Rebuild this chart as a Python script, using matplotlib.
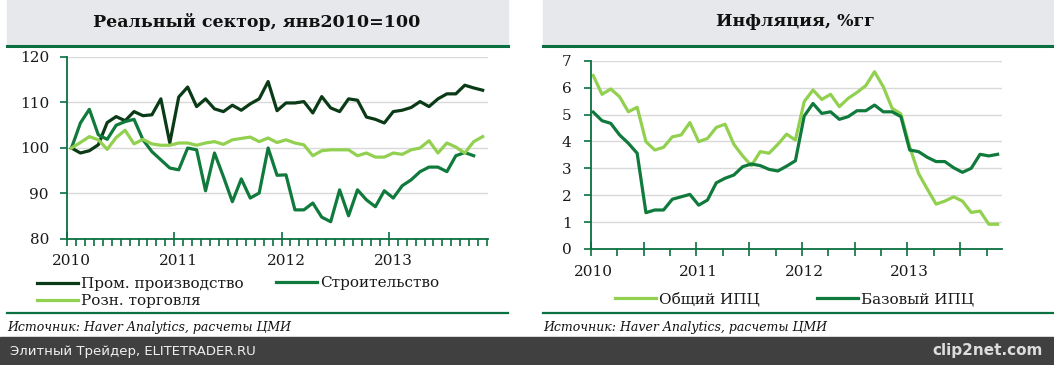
import matplotlib
matplotlib.use('Agg')
import matplotlib.pyplot as plt
from matplotlib.patches import Rectangle
from matplotlib.lines import Line2D

# ---- data (months Jan 2010 .. Nov 2013) ----
years = ['2010', '2011', '2012', '2013']

prom = [100.0, 98.9, 99.4, 100.7, 105.6, 106.9, 106.0, 108.0, 107.1, 107.3,
        110.8, 101.1, 111.2, 113.4, 109.1, 110.8, 108.6, 108.0, 109.4, 108.3,
        109.7, 110.8, 114.6, 108.2, 109.9, 109.9, 110.2, 107.7, 111.3, 108.8,
        108.0, 110.8, 110.5, 106.8, 106.3, 105.5, 108.0, 108.3, 108.9, 110.2,
        109.1, 110.8, 111.9, 111.9, 113.8, 113.2, 112.7]
stroy = [100.0, 105.5, 108.5, 102.9, 101.9, 105.0, 105.8, 106.3, 101.8, 99.2,
         97.4, 95.6, 95.2, 100.0, 99.6, 90.6, 98.9, 93.7, 88.2, 93.2,
         89.0, 90.1, 100.0, 94.0, 94.1, 86.4, 86.4, 87.9, 84.8, 83.8,
         90.8, 85.1, 90.8, 88.6, 87.1, 90.6, 89.0, 91.7, 93.0, 94.8,
         95.8, 95.8, 94.8, 98.3, 99.0, 98.3]
rozn = [100.0, 101.2, 102.5, 101.8, 99.7, 102.3, 103.9, 100.9, 101.9, 100.9,
        100.6, 100.6, 101.1, 101.1, 100.6, 101.1, 101.4, 100.8, 101.8, 102.1,
        102.4, 101.4, 102.2, 101.2, 101.8, 101.1, 100.7, 98.3, 99.4, 99.6,
        99.6, 99.6, 98.3, 98.9, 98.0, 98.0, 98.9, 98.6, 99.6, 100.0,
        101.6, 98.9, 101.1, 100.2, 98.9, 101.4, 102.5]

ipc_total = [6.45, 5.75, 5.95, 5.66, 5.10, 5.27, 3.99, 3.68, 3.78, 4.17,
             4.24, 4.70, 3.99, 4.11, 4.52, 4.64, 3.89, 3.46, 3.10, 3.62,
             3.56, 3.89, 4.27, 4.05, 5.48, 5.91, 5.56, 5.75, 5.29, 5.60,
             5.82, 6.07, 6.59, 6.03, 5.23, 5.02, 3.80, 2.81, 2.23, 1.67,
             1.78, 1.94, 1.78, 1.36, 1.41, 0.92, 0.92]
ipc_core = [5.09, 4.77, 4.67, 4.24, 3.93, 3.56, 1.35, 1.45, 1.45, 1.85,
            1.94, 2.03, 1.63, 1.82, 2.46, 2.63, 2.75, 3.06, 3.16, 3.10,
            2.96, 2.90, 3.08, 3.28, 4.94, 5.41, 5.04, 5.10, 4.82, 4.92,
            5.14, 5.14, 5.35, 5.10, 5.10, 4.92, 3.68, 3.62, 3.41, 3.25,
            3.25, 3.02, 2.85, 3.00, 3.52, 3.46, 3.52]

DARK = '#0b3a16'
MID = '#0f7a3c'
LIGHT = '#92d050'
AXC = '#0a7040'
GRID = '#d9d9d9'
TXT = '#1a1a1a'
SERIF = ['DejaVu Serif']

W, H = 1054, 365
fig = plt.figure(figsize=(W / 100, H / 100), dpi=100)


def fx(px):
    return px / W


def fy(py):
    return 1 - py / H


# background panels
fig.patches.append(Rectangle((fx(7), fy(45)), fx(501), 45 / H, transform=fig.transFigure,
                             color='#e6e8ec', zorder=0))
fig.patches.append(Rectangle((fx(543), fy(45)), fx(511), 45 / H, transform=fig.transFigure,
                             color='#e6e8ec', zorder=0))
fig.patches.append(Rectangle((0, 0), 1, 28 / H, transform=fig.transFigure,
                             color='#404040', zorder=0))
for x0, x1 in [(7, 508), (543, 1054)]:
    fig.add_artist(Line2D([fx(x0), fx(x1)], [fy(46), fy(46)], transform=fig.transFigure,
                          color=AXC, lw=2.2))
    fig.add_artist(Line2D([fx(x0), fx(x1)], [fy(313), fy(313)], transform=fig.transFigure,
                          color=AXC, lw=1.6))

fig.text(fx(257), fy(22), 'Реальный сектор, янв2010=100', ha='center', va='center',
         fontsize=12.5, fontweight='bold', family=SERIF, color='#111111')
fig.text(fx(795), fy(22), 'Инфляция, %гг', ha='center', va='center',
         fontsize=12.5, fontweight='bold', family=SERIF, color='#111111')
for x0 in (7, 543):
    fig.text(fx(x0), fy(327), 'Источник: Haver Analytics, расчеты ЦМИ', ha='left', va='center',
             fontsize=9, style='italic', family=SERIF, color='#111111')
fig.text(fx(10), fy(351), 'Элитный Трейдер, ELITETRADER.RU', ha='left', va='center',
         fontsize=9.5, family=['DejaVu Sans'], color='#f0f0f0')
fig.text(fx(1043), fy(351), 'clip2net.com', ha='right', va='center',
         fontsize=11, fontweight='bold', family=['DejaVu Sans'], color='#dcdcdc')


def style_axes(ax, pad):
    for s in ('top', 'right'):
        ax.spines[s].set_visible(False)
    ax.spines['left'].set_color(AXC)
    ax.spines['bottom'].set_color(AXC)
    ax.spines['left'].set_linewidth(1.3)
    ax.spines['bottom'].set_linewidth(1.3)
    ax.grid(axis='y', color=GRID, lw=1.0)
    ax.set_axisbelow(True)
    ax.tick_params(axis='y', colors=AXC, length=5, width=1.2, labelcolor=TXT,
                   labelsize=11, pad=pad)
    for lab in ax.get_yticklabels():
        lab.set_family(SERIF)


# ---- left chart ----
ax1 = fig.add_axes([fx(67), fy(239), fx(488 - 67), (239 - 57) / H])
l_prom, = ax1.plot(list(range(len(prom))), prom, color=DARK, lw=2.3)
l_stroy, = ax1.plot(list(range(len(stroy))), stroy, color=MID, lw=2.3)
l_rozn, = ax1.plot(list(range(len(rozn))), rozn, color=LIGHT, lw=2.3)
ax1.set_xlim(-0.5, 46.6)
ax1.set_ylim(80, 120)
ax1.set_yticks([80, 90, 100, 110, 120])
style_axes(ax1, 8)
ax1.set_xticks([i - 0.5 for i in range(0, 48, 12)])
ax1.set_xticklabels([])
ax1.set_xticks([i - 0.5 for i in range(48)], minor=True)
ax1.tick_params(axis='x', which='major', colors=AXC, length=10, width=1.2, direction='inout')
ax1.tick_params(axis='x', which='minor', colors=AXC, length=5, width=1.2, direction='out')
for k, y in enumerate(years):
    ax1.text(k * 12, 76.8, y, transform=ax1.transData, ha='center', va='top',
             fontsize=11, family=SERIF, color=TXT)

legkw = dict(loc='center left', frameon=False, handlelength=2.7, handletextpad=0.2,
             labelspacing=0.2, borderaxespad=0, borderpad=0,
             prop={'family': SERIF, 'size': 11})
leg1a = fig.legend([l_prom, l_rozn], ['Пром. производство', 'Розн. торговля'],
                   bbox_to_anchor=(fx(37), fy(292.5)), **legkw)
leg1b = fig.legend([l_stroy], ['Строительство'],
                   bbox_to_anchor=(fx(276), fy(283)), **legkw)

# ---- right chart ----
ax2 = fig.add_axes([fx(591), fy(249), fx(1002 - 591), (249 - 60.7) / H])
l_tot, = ax2.plot(list(range(len(ipc_total))), ipc_total, color=LIGHT, lw=2.3)
l_core, = ax2.plot(list(range(len(ipc_core))), ipc_core, color=MID, lw=2.3)
ax2.set_xlim(-0.25, 46.5)
ax2.set_ylim(0, 7)
ax2.set_yticks(range(8))
style_axes(ax2, 9)
ax2.set_xticks([k * 6 - 0.25 for k in range(8)])
ax2.set_xticklabels([])
ax2.set_xticks([k * 6 + 2.75 for k in range(8)], minor=True)
ax2.tick_params(axis='x', which='major', colors=AXC, length=10, width=1.2, direction='inout')
ax2.tick_params(axis='x', which='minor', colors=AXC, length=5, width=1.2, direction='out')
for k, y in enumerate(years):
    ax2.text(k * 12, -0.6, y, transform=ax2.transData, ha='center', va='top',
             fontsize=11, family=SERIF, color=TXT)

leg2a = fig.legend([l_tot], ['Общий ИПЦ'], bbox_to_anchor=(fx(615), fy(299)), **legkw)
leg2b = fig.legend([l_core], ['Базовый ИПЦ'], bbox_to_anchor=(fx(817), fy(299)), **legkw)
for lg in (leg1a, leg1b, leg2a, leg2b):
    for t in lg.get_texts():
        t.set_color(TXT)

fig.savefig('out.png', dpi=100)
